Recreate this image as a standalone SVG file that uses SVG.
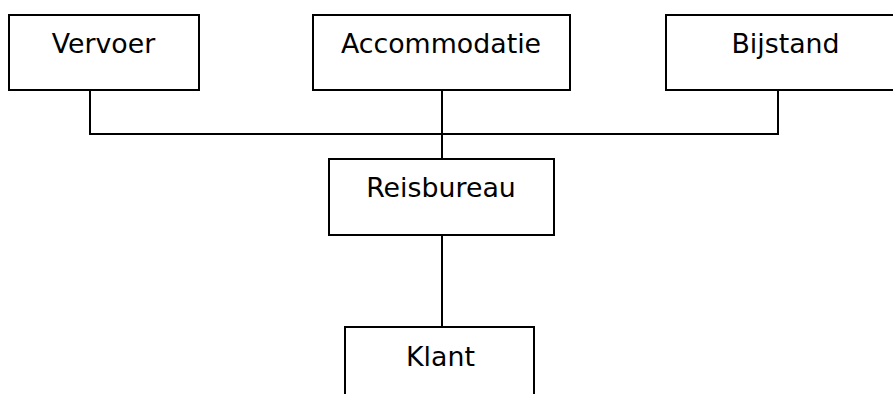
<svg xmlns="http://www.w3.org/2000/svg" width="893" height="394" viewBox="0 0 893 394">
  <style>
    .box { fill: #ffffff; stroke: #000000; stroke-width: 2; }
    .lbl { font-family: "DejaVu Sans", Verdana, sans-serif; font-size: 26.8px; fill: #000000; text-anchor: middle; }
    .wire { fill: none; stroke: #000000; stroke-width: 2; }
  </style>
  <rect width="893" height="394" fill="#ffffff"/>

  <!-- connectors -->
  <g id="connectors">
    <polyline class="wire" points="90,87 90,134 778,134 778,87"/>
    <line class="wire" x1="442" y1="90" x2="442" y2="159"/>
    <line class="wire" x1="442" y1="230" x2="442" y2="327"/>
  </g>

  <g id="vervoer">
    <rect class="box" x="9" y="15" width="190" height="75"/>
    <text class="lbl" x="103.5" y="52.5">Vervoer</text>
  </g>

  <g id="accommodatie">
    <rect class="box" x="313" y="15" width="257" height="75"/>
    <text class="lbl" x="441" y="52.5">Accommodatie</text>
  </g>

  <g id="bijstand">
    <rect class="box" x="666" y="15" width="240" height="75"/>
    <text class="lbl" x="785.5" y="52.5">Bijstand</text>
  </g>

  <g id="reisbureau">
    <rect class="box" x="329" y="159" width="225" height="76"/>
    <text class="lbl" x="441" y="196.5">Reisbureau</text>
  </g>

  <g id="klant">
    <rect class="box" x="345" y="327" width="189" height="80"/>
    <text class="lbl" x="440.5" y="365.5">Klant</text>
  </g>
</svg>
